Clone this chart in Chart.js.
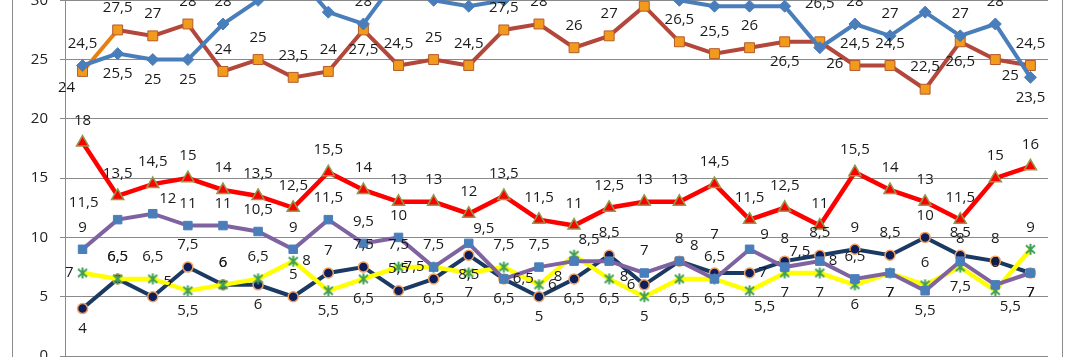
<!DOCTYPE html>
<html><head><meta charset="utf-8">
<script src="https://cdn.jsdelivr.net/npm/chart.js@4.4.1/dist/chart.umd.min.js"></script>
<style>
html,body{margin:0;padding:0;background:#fff;overflow:hidden;width:1070px;height:357px;}
#wrap{position:absolute;left:0;top:-80px;width:1070px;height:457px;}
</style></head><body>
<div id="wrap"><canvas id="c" width="1070" height="457"></canvas></div>
<script>
// ---- data ----
const categories = ['1','2','3','4','5','6','7','8','9','10','11','12','13','14','15','16','17','18','19','20','21','22','23','24','25','26','27','28'];
const yTicks = [0, 5, 10, 15, 20, 25, 30, 35];
const blueValues   = [24.5, 25.5, 25, 25, 28, 30, 32.5, 29, 28, 32, 30, 29.5, 30, 32, 33, 32, 31, 30, 29.5, 29.5, 29.5, 26, 28, 27, 29, 27, 28, 23.5];
const brownValues  = [24, 27.5, 27, 28, 24, 25, 23.5, 24, 27.5, 24.5, 25, 24.5, 27.5, 28, 26, 27, 29.5, 26.5, 25.5, 26, 26.5, 26.5, 24.5, 24.5, 22.5, 26.5, 25, 24.5];
const redValues    = [18, 13.5, 14.5, 15, 14, 13.5, 12.5, 15.5, 14, 13, 13, 12, 13.5, 11.5, 11, 12.5, 13, 13, 14.5, 11.5, 12.5, 11, 15.5, 14, 13, 11.5, 15, 16];
const purpleValues = [9, 11.5, 12, 11, 11, 10.5, 9, 11.5, 9.5, 10, 7.5, 9.5, 6.5, 7.5, 8, 8, 7, 8, 6.5, 9, 7.5, 8, 6.5, 7, 5.5, 8, 6, 7];
const navyValues   = [4, 6.5, 5, 7.5, 6, 6, 5, 7, 7.5, 5.5, 6.5, 8.5, 6.5, 5, 6.5, 8.5, 6, 8, 7, 7, 8, 8.5, 9, 8.5, 10, 8.5, 8, 7];
const yellowValues = [7, 6.5, 6.5, 5.5, 6, 6.5, 8, 5.5, 6.5, 7.5, 7.5, 7, 7.5, 6, 8.5, 6.5, 5, 6.5, 6.5, 5.5, 7, 7, 6, 7, 6, 7.5, 5.5, 9];

// ---- label placement (style) ----
const bluePos   = 'abbba' + 'aaaaaaaaaaaaaaaa' + 'xaaaaab';
const brownPos  = 'z' + 'aaaaaaa' + 'b' + 'aaaaaaaaaaa' + 'b' + 'A' + 'aaa' + 'b' + 'x' + 'a';
const redPos    = 'aaaaaaaaaaaaaaaaaaaaaaaaaaaa';
const purplePos = 'aWeaaaaaaa' + 'lerazxaeae' + 'erabbaab';
const navyPos   = 'baeaabaaaa' + 'bbbbbalaAr' + 'aaaaaaab';
const yellowPos = 'laabaarbba' + 'abarebbbbx' + 'bbbbabxa';

// star marker (X + vertical bar)
function makeStar(color){
  const s = document.createElement('canvas'); s.width = 13; s.height = 13;
  const c = s.getContext('2d');
  c.strokeStyle = color; c.lineWidth = 2;
  c.beginPath();
  c.moveTo(6.5,1); c.lineTo(6.5,12);
  c.moveTo(2,2.5); c.lineTo(11,10.5);
  c.moveTo(11,2.5); c.lineTo(2,10.5);
  c.stroke();
  return s;
}
const starImg = makeStar('#3f9f55');

const labelPlugin = {
  id: 'pointLabels',
  afterDatasetsDraw(chart){
    const ctx = chart.ctx;
    ctx.save();
    ctx.font = '15px "Open Sans", "Liberation Sans", sans-serif';
    ctx.fillStyle = '#1a1a1a';
    ctx.textBaseline = 'middle';
    chart.data.datasets.forEach((ds, di) => {
      const meta = chart.getDatasetMeta(di);
      const codes = ds.labelPos || '';
      meta.data.forEach((pt, i) => {
        const txt = String(ds.data[i]).replace('.', ',');
        let dx = 0, dy = -22, align = 'center';
        switch (codes[i]) {
          case 'A': dy = -38; break;
          case 'b': dy = 20; break;
          case 'l': dx = -9; dy = 0; align = 'right'; break;
          case 'r': dx = 9; dy = 0; align = 'left'; break;
          case 'e': dx = 15; dy = -15; break;
          case 'w': dx = -15; dy = -15; break;
          case 'x': dx = 15; dy = 16; break;
          case 'z': dx = -16; dy = 16; break;
          case 'W': dx = -34; dy = -17; break;
        }
        ctx.textAlign = align;
        ctx.fillText(txt, pt.x + dx, pt.y + dy);
      });
    });
    ctx.restore();
  }
};

const framePlugin = {
  id: 'frame',
  beforeDraw(chart){
    const ctx = chart.ctx;
    ctx.save();
    ctx.fillStyle = '#fff';
    ctx.fillRect(0, 0, chart.width, chart.height);
    ctx.strokeStyle = '#8c8c8c';
    ctx.lineWidth = 1;
    ctx.strokeRect(12.5, 2.5, 1050, chart.height + 20);
    ctx.restore();
  }
};

new Chart(document.getElementById('c'), {
  type: 'line',
  data: {
    labels: categories,
    datasets: [
      { data: blueValues, labelPos: bluePos, borderColor: '#4a7ebb', backgroundColor: '#4a7ebb', borderWidth: 4,
        pointStyle: 'rectRot', pointRadius: 6, pointBorderColor: '#4a7ebb', pointBackgroundColor: '#4a7ebb', pointBorderWidth: 1 },
      { data: brownValues, labelPos: brownPos, borderColor: '#b3473b', borderWidth: 4,
        segment: { borderColor: c => c.p0DataIndex === 0 ? '#e8800f' : '#b3473b' },
        pointStyle: 'rect', pointRadius: 7, pointBackgroundColor: '#f29a1c', pointBorderColor: '#b55a2a', pointBorderWidth: 1 },
      { data: redValues, labelPos: redPos, borderColor: '#ff0000', borderWidth: 4.5,
        pointStyle: 'triangle', pointRadius: 7, pointBackgroundColor: '#ff0000', pointBorderColor: '#8f9a4a', pointBorderWidth: 1.5 },
      { data: purpleValues, labelPos: purplePos, borderColor: '#7f63a1', borderWidth: 4,
        pointStyle: 'rect', pointRadius: 6, pointBackgroundColor: '#4a7ebb', pointBorderColor: '#4a7ebb', pointBorderWidth: 1 },
      { data: yellowValues, labelPos: yellowPos, borderColor: '#ffff00', borderWidth: 4.5,
        pointStyle: starImg, pointRadius: 6 },
      { data: navyValues, labelPos: navyPos, borderColor: '#1b3a63', borderWidth: 4,
        pointStyle: 'circle', pointRadius: 5, pointBackgroundColor: '#0e1e5b', pointBorderColor: '#f0a060', pointBorderWidth: 1.5 }
    ]
  },
  options: {
    responsive: false,
    animation: false,
    events: [],
    layout: { padding: { left: 12, right: 22, top: 0, bottom: 0 } },
    plugins: { legend: { display: false }, tooltip: { enabled: false } },
    elements: { line: { tension: 0 } },
    scales: {
      x: { display: false, offset: true },
      y: {
        min: yTicks[0], max: yTicks[yTicks.length - 1],
        afterBuildTicks: s => { s.ticks = yTicks.map(v => ({ value: v })); },
        afterFit: s => { s.width = 53; },
        grid: { color: '#8a8a8a', lineWidth: 1, tickLength: 5, drawTicks: true },
        border: { display: true, color: '#8a8a8a', width: 1 },
        ticks: { padding: 12, color: '#222', font: { family: '"Open Sans", "Liberation Sans", sans-serif', size: 15 } }
      }
    }
  },
  plugins: [framePlugin, labelPlugin]
});
</script>
</body></html>
